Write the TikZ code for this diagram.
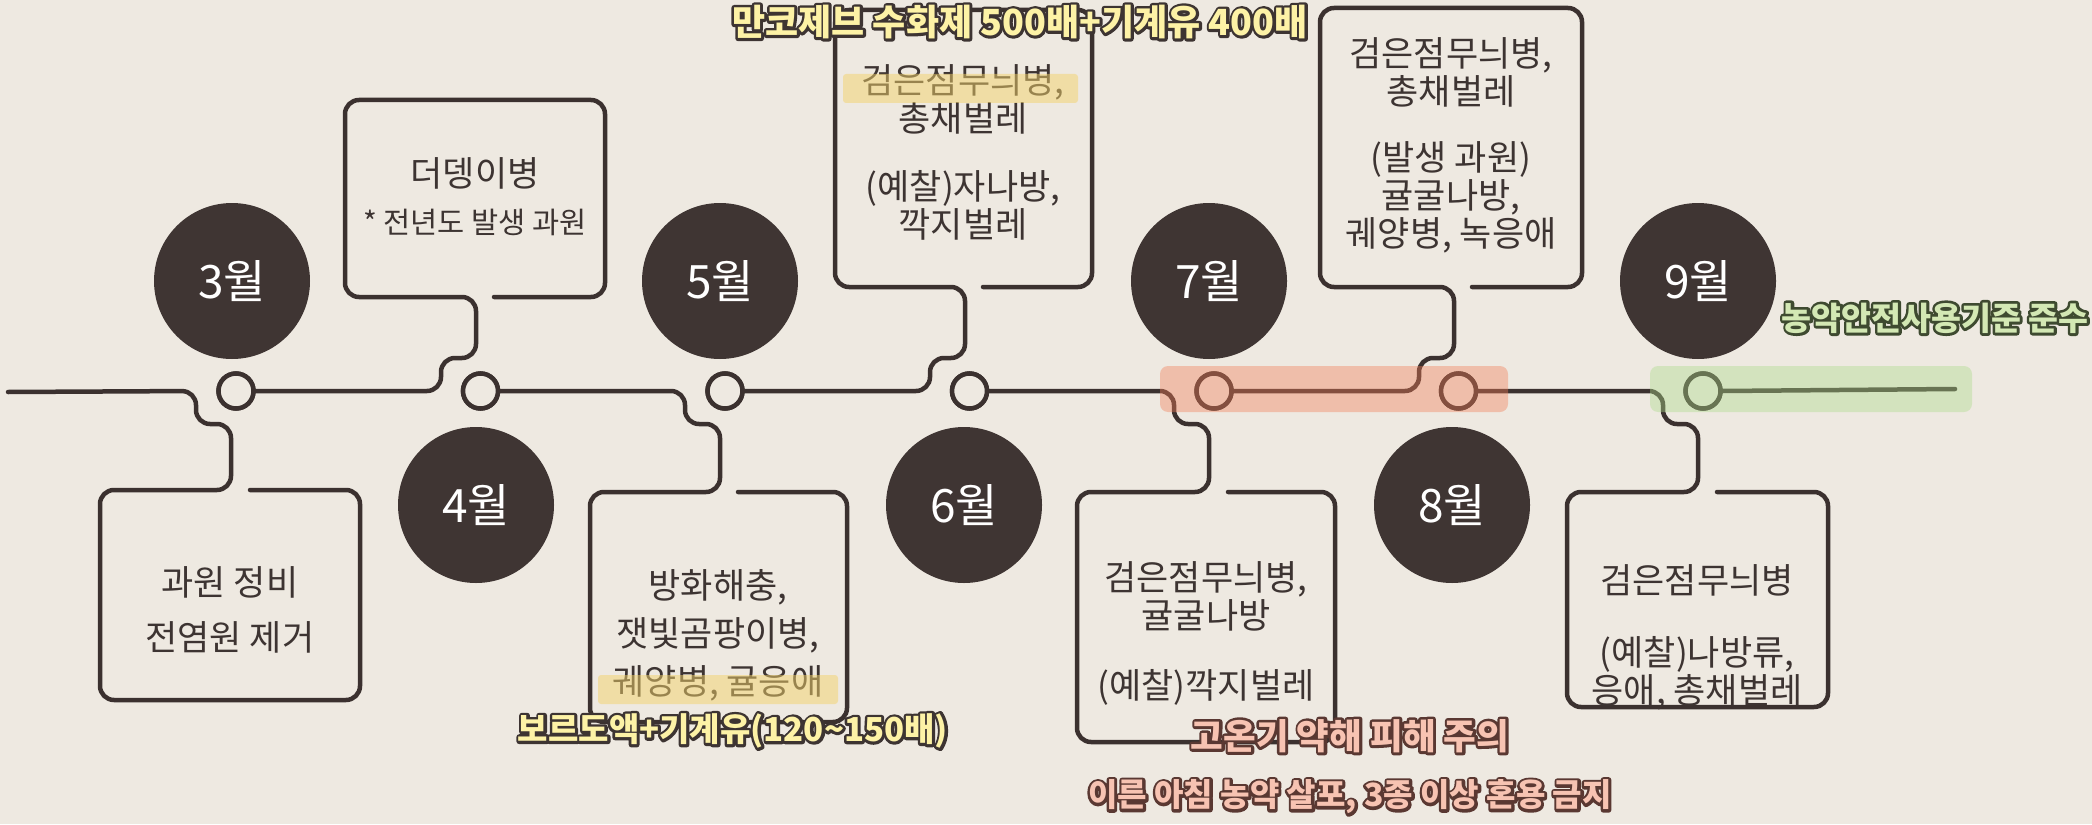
\documentclass[tikz,border=0pt]{standalone}
\usepackage{fontspec}
\newfontfamily\kr{Noto Sans CJK KR}
\definecolor{bg}{HTML}{EEE9E1}
\definecolor{ink}{HTML}{3B312F}
\definecolor{disc}{HTML}{3F3533}
\definecolor{txt}{HTML}{3D3432}
\definecolor{hl}{HTML}{F3D36B}
\definecolor{pinkband}{HTML}{F27E58}
\definecolor{greenband}{HTML}{ACDA8A}
\definecolor{ylw}{HTML}{FDF2A6}
\definecolor{pnk}{HTML}{F7C3B2}
\definecolor{grn}{HTML}{D3E8B4}
% outlined text: #1 stroke rgb, #2 fill colour, #3 text
\newcommand\outl[3]{\leavevmode\rlap{\special{pdf:literal direct #1 RG 1 Tr 5.5 w 1 j 1 J}#3\special{pdf:literal direct 0 Tr}}{\color{#2}#3}}
\begin{document}
\begin{tikzpicture}[x=1pt,y=-1pt,
  line/.style={draw=ink,line width=4.5pt,rounded corners=14pt,line cap=round,line join=round},
  dot/.style={circle,draw=ink,line width=4.5pt,fill=bg,minimum size=35pt,inner sep=0pt},
  month/.style={circle,fill=disc,minimum size=156pt,inner sep=0pt,text=white,font=\kr\fontsize{46}{50}\selectfont},
  boxtxt/.style={text=txt,align=center,inner sep=0pt,font=\kr\fontsize{35}{38}\selectfont},
  subtxt/.style={text=txt,align=center,inner sep=0pt,font=\kr\fontsize{29.5}{31}\selectfont},
  hilite/.style={fill=hl,fill opacity=0.5,rounded corners=3pt},
  band/.style={fill opacity=0.4,rounded corners=8pt},
  note/.style={inner sep=0pt,font=\kr\bfseries\fontsize{36}{40}\selectfont}
]
\fill[bg] (0,0) rectangle (2092,824);
\useasboundingbox (0,0) rectangle (2092,824);

% small timeline dots
\node[dot] (c3) at (236,391) {};
\node[dot] (c4) at (480.5,391) {};
\node[dot] (c5) at (725,391) {};
\node[dot] (c6) at (969.5,391) {};
\node[dot] (c7) at (1214,391) {};
\node[dot] (c8) at (1458.5,391) {};
\node[dot] (c9) at (1703,391) {};
\coordinate (s0) at (8,392);
\coordinate (e9) at (1955,389);

% timeline with speech-bubble boxes
\draw[line] (s0) -- (196,391) -- (196,424) -- (231,424) -- (231,490) -- (100,490) -- (100,700) -- (360,700) -- (360,490) -- (250,490);
\draw[line] (c3.east) -- (441,391) -- (441,358) -- (476,358) -- (476,297) -- (345,297) -- (345,100) -- (605,100) -- (605,297) -- (494,297);
\draw[line] (c4.east) -- (685,391) -- (685,424) -- (720,424) -- (720,492) -- (590,492) -- (590,722) -- (847,722) -- (847,492) -- (738,492);
\draw[line] (c5.east) -- (930,391) -- (930,358) -- (965,358) -- (965,287) -- (835,287) -- (835,10) -- (1092,10) -- (1092,287) -- (983,287);
\draw[line] (c6.east) -- (1174,391) -- (1174,424) -- (1209,424) -- (1209,492) -- (1077,492) -- (1077,742) -- (1335,742) -- (1335,492) -- (1228,492);
\draw[line] (c7.east) -- (1419,391) -- (1419,358) -- (1454,358) -- (1454,287) -- (1320,287) -- (1320,8) -- (1582,8) -- (1582,287) -- (1472,287);
\draw[line] (c8.east) -- (1663,391) -- (1663,424) -- (1698,424) -- (1698,492) -- (1567,492) -- (1567,707) -- (1828,707) -- (1828,492) -- (1717,492);
\draw[line] (c9.east) -- (e9);

% redraw dots on top of line ends
\foreach \n/\x in {r3/236,r4/480.5,r5/725,r6/969.5,r7/1214,r8/1458.5,r9/1703}
  \node[dot] (\n) at (\x,391) {};

% month discs
\node[month] (m3) at (232,281) {3월};
\node[month] (m4) at (476,505) {4월};
\node[month] (m5) at (720,281) {5월};
\node[month] (m6) at (964,505) {6월};
\node[month] (m7) at (1209,281) {7월};
\node[month] (m8) at (1452,505) {8월};
\node[month] (m9) at (1698,281) {9월};

% box texts
\node[boxtxt,font=\kr\fontsize{35}{55}\selectfont] (t3) at (230,610) {과원 정비\\전염원 제거};
\node[boxtxt] (t4a) at (475,173) {더뎅이병};
\node[subtxt] (t4b) at (475,222) {* 전년도 발생 과원};
\node[boxtxt,font=\kr\fontsize{35}{48}\selectfont] (t5) at (718,635) {방화해충,\\잿빛곰팡이병,\\궤양병, 귤응애};
\node[boxtxt] (t6a) at (963,99) {검은점무늬병,\\총채벌레};
\node[boxtxt] (t6b) at (963,205) {(예찰)자나방,\\깍지벌레};
\node[boxtxt] (t7a) at (1206,596) {검은점무늬병,\\귤굴나방};
\node[boxtxt] (t7b) at (1206,687) {(예찰)깍지벌레};
\node[boxtxt] (t8a) at (1451,72) {검은점무늬병,\\총채벌레};
\node[boxtxt] (t8b) at (1451,197) {(발생 과원)\\귤굴나방,\\궤양병, 녹응애};
\node[boxtxt] (t9a) at (1697,580) {검은점무늬병};
\node[boxtxt] (t9b) at (1697,673) {(예찰)나방류,\\응애, 총채벌레};

% highlights
\fill[hilite] (598,675) rectangle (838,704);
\fill[hilite] (843,74) rectangle (1078,103);

% colour bands
\fill[band,fill=pinkband] (1160,366) rectangle (1508,412);
\fill[band,fill=greenband] (1650,366) rectangle (1972,412);

% annotations
\node[note] (a1) at (1020,22) {\outl{0.239 0.204 0.196}{ylw}{만코제브 수화제 500배+기계유 400배}};
\node[note,font=\kr\bfseries\fontsize{33}{38}\selectfont] (a2) at (733,731) {\outl{0.239 0.204 0.196}{ylw}{보르도액+기계유(120\textasciitilde150배)}};
\node[note,font=\kr\bfseries\fontsize{35.5}{38}\selectfont] (a3) at (1350,736) {\outl{0.353 0.220 0.196}{pnk}{고온기 약해 피해 주의}};
\node[note,font=\kr\bfseries\fontsize{32}{38}\selectfont] (a4) at (1350,797) {\outl{0.353 0.220 0.196}{pnk}{이른 아침 농약 살포, 3종 이상 혼용 금지}};
\node[note,font=\kr\bfseries\fontsize{32.5}{38}\selectfont] (a5) at (1935,318) {\outl{0.243 0.290 0.188}{grn}{농약안전사용기준 준수}};
\end{tikzpicture}
\end{document}
